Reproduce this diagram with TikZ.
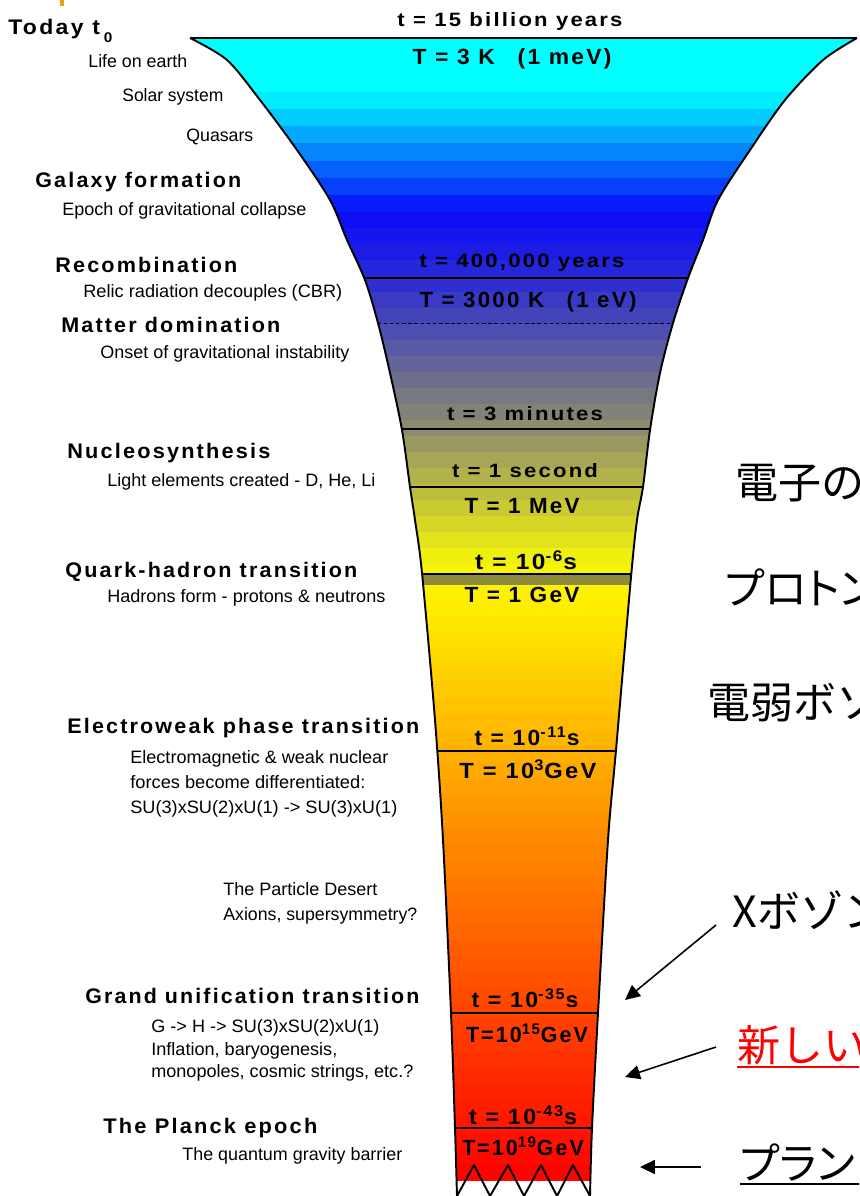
\documentclass[tikz,border=0pt]{standalone}
\usepackage{fontspec}
\setmainfont{Liberation Sans}
\newfontfamily\trackfont[LetterSpace=10]{Liberation Sans}
\newfontfamily\jpfont{Noto Sans CJK JP}
\newfontfamily\jppfont[RawFeature=+palt]{Noto Sans CJK JP}
\usepackage{tikz}
\usetikzlibrary{arrows.meta}
\definecolor{Aqua}{HTML}{00FFFF}
\definecolor{Deep}{HTML}{0A0AFA}
\definecolor{Indigo}{HTML}{2020E0}
\definecolor{Ash}{HTML}{878773}
\definecolor{Lemon}{HTML}{F5F50A}
\definecolor{Sun}{HTML}{FFF000}
\definecolor{Tangerine}{HTML}{FF8200}
\definecolor{Scarlet}{HTML}{FF0000}
\definecolor{Olive}{HTML}{8C8C3C}
\definecolor{Gold}{HTML}{E8A317}
\newlength{\pxu}\setlength{\pxu}{0.02cm}
\newcommand{\fitw}[2]{\resizebox{#1\pxu}{\height}{#2}}

\begin{document}
\begin{tikzpicture}[x=0.02cm,y=-0.02cm,
  head/.style={font=\trackfont\bfseries\fontsize{12}{14}\selectfont,anchor=base west,inner sep=0pt},
  sub/.style={font=\fontsize{10.2}{12}\selectfont,anchor=base west,inner sep=0pt},
  val/.style={font=\trackfont\bfseries\fontsize{11}{13}\selectfont,anchor=base,inner sep=0pt},
  valL/.style={val,font=\trackfont\bfseries\fontsize{12.5}{14}\selectfont},
  jp/.style={font=\jpfont\fontsize{24.5}{28}\selectfont,anchor=west,inner sep=0pt},
  jpp/.style={jp,font=\jppfont\fontsize{24.5}{28}\selectfont},
  outline/.style={line width=1.1pt,line join=round},
  rule/.style={line width=0.7pt},
  note/.style={-{Triangle[length=8.5pt,width=8pt]},line width=0.9pt}]
  \useasboundingbox (0,0) rectangle (859,1196);
  \clip (0,0) rectangle (859,1196);
  \fill[Gold] (60,0) rectangle (64,6);

  \begin{scope}
    \clip (190,38) -- plot[smooth] coordinates {(857,38) (823,60) (785,100) (750,150) (718,200) (703,240) (688,278) (673,323) (660,373) (650,430) (643,487) (637,520) (631,577) (616,750) (608,840) (598,1013) (592,1128) (590,1196)}
      -- plot[smooth] coordinates {(457,1196) (455,1128) (451,1013) (443,840) (435,720) (422,573) (415,520) (410,487) (402,430) (390,373) (378,323) (365,280) (347,240) (330,200) (297,150) (260,100) (227,60) (190,38)} -- cycle;
    \foreach \ya/\yb/\n/\ca/\cb in {38/92/3/Aqua/Aqua,92/212/7/Aqua/Deep,212/260/3/Deep/Indigo,260/420/10/Indigo/Ash,420/564/9/Ash/Lemon,564/600/2/Lemon/Sun,600/860/16/Sun/Tangerine,860/1180/20/Tangerine/Scarlet}
      \foreach \k in {1,...,\n} {
        \pgfmathsetmacro\bh{(\yb-\ya)/\n}
        \pgfmathsetmacro\pc{100*(\k-0.5)/\n}
        \fill[fill=\cb!\pc!\ca] (150,{\ya+(\k-1)*\bh}) rectangle (900,{\ya+\k*\bh+0.6});
      }
    \fill[Olive] (150,574) rectangle (900,585);
    \draw[rule] (150,278) -- (900,278);
    \draw[line width=0.4pt,dash pattern=on 2pt off 1.5pt] (150,323) -- (900,323);
    \draw[rule] (150,429) -- (900,429);
    \draw[rule] (150,487) -- (900,487);
    \draw[rule] (150,574) -- (900,574);
    \draw[rule] (150,751) -- (900,751);
    \draw[rule] (150,1013) -- (900,1013);
    \draw[rule] (150,1128) -- (900,1128);
  \end{scope}
  \draw[outline] (190,38) -- (857,38);
  \draw[outline] plot[smooth] coordinates {(857,38) (823,60) (785,100) (750,150) (718,200) (703,240) (688,278) (673,323) (660,373) (650,430) (643,487) (637,520) (631,577) (616,750) (608,840) (598,1013) (592,1128) (590,1196)};
  \draw[outline] plot[smooth] coordinates {(457,1196) (455,1128) (451,1013) (443,840) (435,720) (422,573) (415,520) (410,487) (402,430) (390,373) (378,323) (365,280) (347,240) (330,200) (297,150) (260,100) (227,60) (190,38)};
  \draw[outline] (457,1196) -- (474,1165) -- (490,1196) -- (508,1165) -- (524,1196) -- (541,1165) -- (557,1196) -- (573,1165) -- (590,1196);

  \node[val] (tNow) at (510,27) {\fitw{225}{t = 15 billion years}};
  \node[valL] (TNow) at (512,65) {\fitw{199}{T = 3 K\quad(1 meV)}};
  \node[val] (tRec) at (522,267) {\fitw{205}{t = 400,000 years}};
  \node[valL] (TRec) at (528,307) {\fitw{217}{T = 3000 K\quad(1 eV)}};
  \node[val] (tNuc) at (525,420) {\fitw{156}{t = 3 minutes}};
  \node[val] (tSec) at (525,477) {\fitw{146}{t = 1 second}};
  \node[valL] (TMeV) at (522,513) {\fitw{115}{T = 1 MeV}};
  \node[valL] (tQh) at (526,569) {\fitw{102}{t = 10\textsuperscript{-6}s}};
  \node[valL] (TGeV) at (522,602) {\fitw{115}{T = 1 GeV}};
  \node[valL] (tEw) at (527,745) {\fitw{105}{t = 10\textsuperscript{-11}s}};
  \node[valL] (TEw) at (528,778) {\fitw{137}{T = 10\textsuperscript{3}GeV}};
  \node[valL] (tGut) at (525,1007) {\fitw{107}{t = 10\textsuperscript{-35}s}};
  \node[valL] (TGut) at (527,1042) {\fitw{122}{T=10\textsuperscript{15}GeV}};
  \node[valL] (tPl) at (523,1124) {\fitw{108}{t = 10\textsuperscript{-43}s}};
  \node[valL] (TPl) at (523,1155) {\fitw{122}{T=10\textsuperscript{19}GeV}};

  \node[head] (today) at (8,35) {\fitw{104}{Today t\,\raisebox{-4pt}{\fontsize{8}{8}\selectfont 0}}};
  \node[sub] (life) at (88,68) {\fitw{99}{Life on earth}};
  \node[sub] (solar) at (122,102) {\fitw{101}{Solar system}};
  \node[sub] (quasar) at (186,142) {\fitw{67}{Quasars}};
  \node[head] (galaxy) at (35,188) {\fitw{206}{Galaxy formation}};
  \node[sub] (epoch) at (62,215) {\fitw{244}{Epoch of gravitational collapse}};
  \node[head] (recomb) at (55,272) {\fitw{182}{Recombination}};
  \node[sub] (relic) at (83,297) {\fitw{259}{Relic radiation decouples (CBR)}};
  \node[head] (matter) at (61,332) {\fitw{219}{Matter domination}};
  \node[sub] (onset) at (100,358) {\fitw{249}{Onset of gravitational instability}};
  \node[head] (nucleo) at (67,458) {\fitw{203}{Nucleosynthesis}};
  \node[sub] (light) at (107,486) {\fitw{268}{Light elements created - D, He, Li}};
  \node[head] (quark) at (65,577) {\fitw{292}{Quark-hadron transition}};
  \node[sub] (hadron) at (107,602) {\fitw{278}{Hadrons form - protons \& neutrons}};
  \node[head] (ewk) at (67,733) {\fitw{352}{Electroweak phase transition}};
  \node[sub] (emA) at (130,763) {\fitw{258}{Electromagnetic \& weak nuclear}};
  \node[sub] (emB) at (130,788) {\fitw{235}{forces become differentiated:}};
  \node[sub] (emC) at (130,813) {\fitw{267}{SU(3)xSU(2)xU(1) -> SU(3)xU(1)}};
  \node[sub] (desertA) at (223,895) {\fitw{154}{The Particle Desert}};
  \node[sub] (desertB) at (223,920) {\fitw{194}{Axions, supersymmetry?}};
  \node[head] (gut) at (85,1003) {\fitw{334}{Grand unification transition}};
  \node[sub] (gutA) at (151,1032) {\fitw{228}{G -> H -> SU(3)xSU(2)xU(1)}};
  \node[sub] (gutB) at (151,1055) {\fitw{186}{Inflation, baryogenesis,}};
  \node[sub] (gutC) at (151,1077) {\fitw{262}{monopoles, cosmic strings, etc.?}};
  \node[head] (planck) at (103,1133) {\fitw{214}{The Planck epoch}};
  \node[sub] (quantum) at (182,1160) {\fitw{220}{The quantum gravity barrier}};

  \node[jp] (elec) at (735,483) {電子の};
  \node[jpp] (proton) at (725,587) {プロトン};
  \node[jp] (ewboson) at (707,703) {電弱ボソン};
  \node[jp] (xboson) at (732,910) {Xボゾン};
  \node[jp,red] (newp) at (737,1045) {新しい};
  \node[jpp] (plk) at (740,1162) {プラン};
  \draw[red,line width=1.6pt] (737,1067) -- (870,1067);
  \draw[line width=1.6pt] (740,1184) -- (870,1184);

  \coordinate (xFrom) at (716,925);
  \coordinate (xTo) at (625,1000);
  \coordinate (nFrom) at (716,1047);
  \coordinate (nTo) at (625,1077);
  \coordinate (pFrom) at (701,1167);
  \coordinate (pTo) at (640,1167);
  \draw[note] (xFrom) -- (xTo);
  \draw[note] (nFrom) -- (nTo);
  \draw[note] (pFrom) -- (pTo);
\end{tikzpicture}
\end{document}
